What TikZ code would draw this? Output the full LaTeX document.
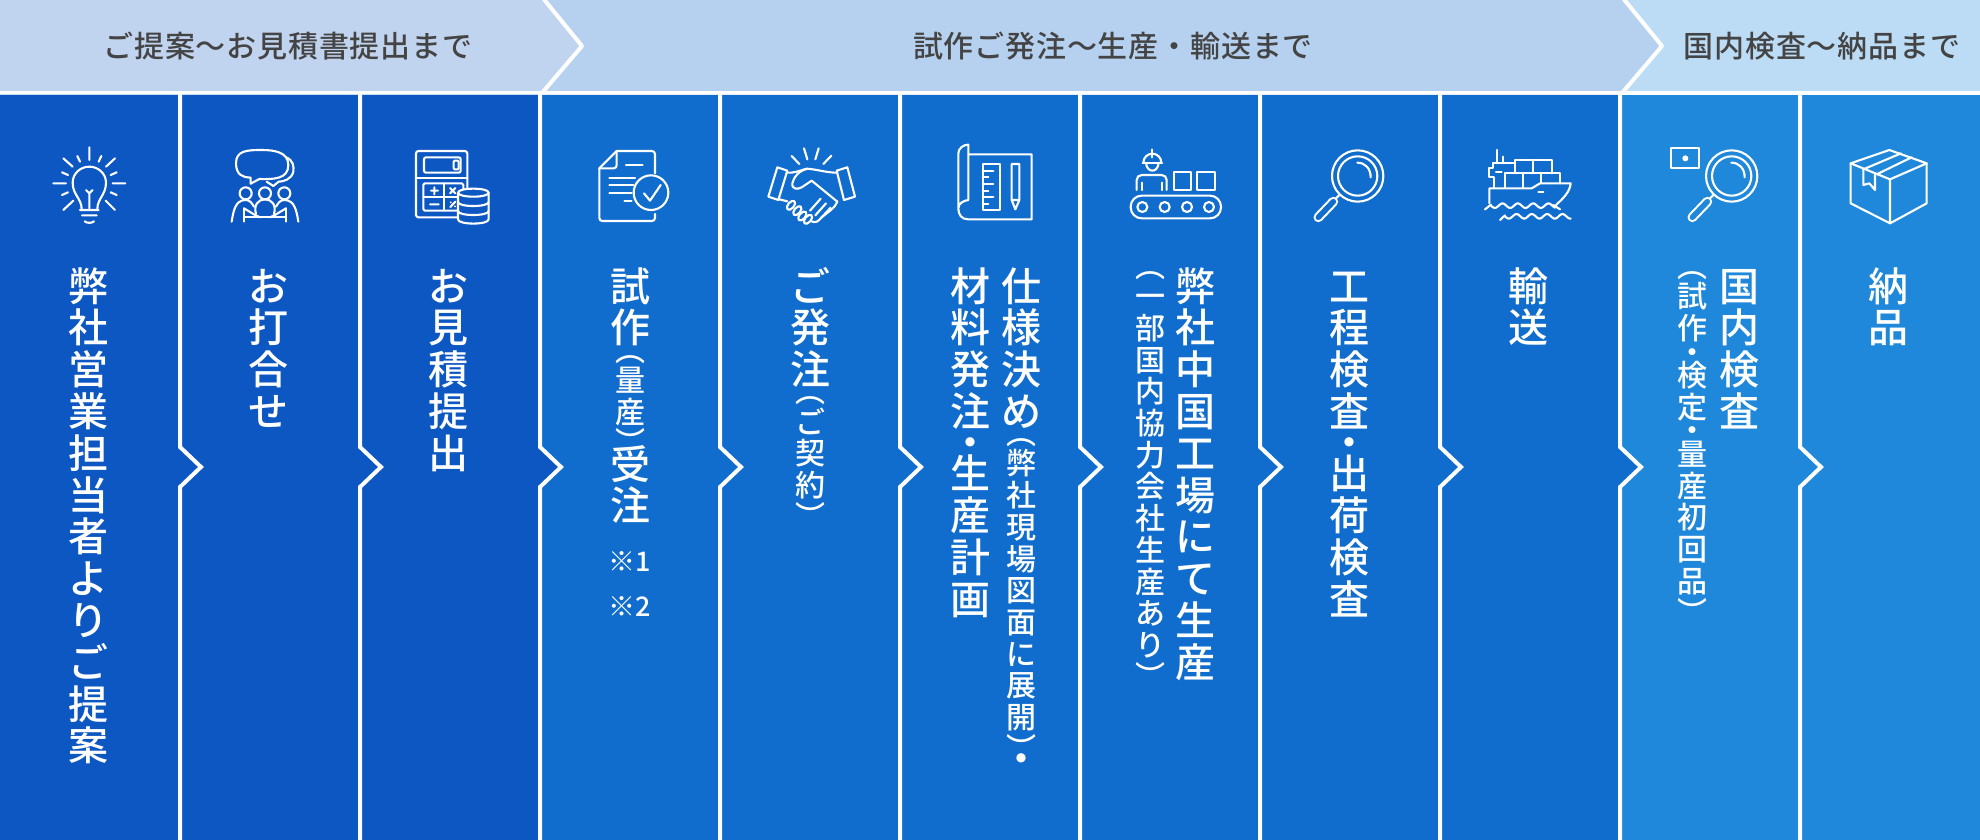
\documentclass[tikz,border=0pt]{standalone}
\usepackage{fontspec}
\newfontfamily\jp{Noto Sans CJK JP Medium}
\newfontfamily\jph[LetterSpace=2.7]{Noto Sans CJK JP Medium}
\newfontfamily\jpm{Noto Sans CJK JP Medium}
\definecolor{colA}{HTML}{0D57C3}
\definecolor{colB}{HTML}{106DCD}
\definecolor{colC}{HTML}{1F88DA}
\definecolor{hdA}{HTML}{C1D4EF}
\definecolor{hdB}{HTML}{B6D1EF}
\definecolor{hdC}{HTML}{BCDCF5}
\definecolor{hdtext}{HTML}{444444}
% one glyph in a vertical cell: size, pitch, char
\newcommand\VL[3]{\vbox to #2pt{\kern\dimexpr #2pt/2 + #1pt*38/100\relax
  \hbox to 80pt{\hss\smash{\fontsize{#1}{#1}\selectfont #3}\hss}\vss}}
\def\VB#1{\VBi#1\relax}
\def\VBi#1{\ifx#1\relax\else\VL{40}{41.8}{#1}\expandafter\VBi\fi}
\def\VS#1{\VSi#1\relax}
\def\VSi#1{\ifx#1\relax\else\VL{30}{31.7}{#1}\expandafter\VSi\fi}
\newcommand\VOP{\vbox to 15.5pt{\kern\dimexpr 15.5pt - 30pt*10/100\relax
  \hbox to 80pt{\hss\smash{\fontsize{30}{30}\selectfont ︵}\hss}\vss}}
\newcommand\VCL{\vbox to 15.5pt{\kern\dimexpr 30pt*88/100\relax
  \hbox to 80pt{\hss\smash{\fontsize{30}{30}\selectfont ︶}\hss}\vss}}
\newcommand\VDS{\VL{30}{15.5}{・}}
\newcommand\VDB{\VL{40}{20.5}{・}}
\newcommand\VT[1]{\vbox{\offinterlineskip\color{white}\jpm #1}}
\tikzset{
  coltext/.style={anchor=north,inner sep=0pt,outer sep=0pt},
  hdtxt/.style={inner sep=0pt,text=hdtext,font=\jph\fontsize{30}{30}\selectfont},
  sep/.style={white,line width=4pt,line join=miter},
  ic/.style={white,line width=2.1pt,line cap=round,line join=round},
  icarea/.style={shift={#1},x=.33333pt,y=-.33333pt},
}
\begin{document}
\begin{tikzpicture}[x=1pt,y=-1pt]
\useasboundingbox (0,0) rectangle (1980,840);
\fill[white] (0,0) rectangle (1980,840);
% header band
\fill[hdC] (0,0) rectangle (1980,91);
\fill[hdB] (0,0) -- (1622,0) -- (1661,46) -- (1622,91) -- (0,91) -- cycle;
\fill[hdA] (0,0) -- (542,0) -- (581,46) -- (542,91) -- (0,91) -- cycle;
\draw[sep,line join=round] (542,-3) -- (582,46) -- (542,93);
\draw[sep,line join=round] (1622,-3) -- (1662,46) -- (1622,93);
\node[hdtxt] (h1) at (288,46) {ご提案〜お見積書提出まで};
\node[hdtxt] (h2) at (1113,46) {試作ご発注〜生産・輸送まで};
\node[hdtxt] (h3) at (1822,46) {国内検査〜納品まで};
% columns
\fill[colC] (0,95) rectangle (1980,840);
\fill[colB] (0,95) -- (1440,95) -- (1620,95) -- (1620,447) -- (1641,467) -- (1620,487) -- (1620,840) -- (0,840) -- cycle;
\fill[colA] (0,95) -- (540,95) -- (540,447) -- (561,467) -- (540,487) -- (540,840) -- (0,840) -- cycle;
\foreach \sx in {180,360,...,1800}{
  \draw[sep] (\sx,93) -- (\sx,447) -- (\sx+21,467) -- (\sx,487) -- (\sx,842);
}
% column labels
\node[coltext] (t1) at (88,265) {\VT{\VB{弊社営業担当者よりご提案}}};
\node[coltext] (t2) at (268,265) {\VT{\VB{お打合せ}}};
\node[coltext] (t3) at (448,265) {\VT{\VB{お見積提出}}};
\node[coltext] (t4) at (630,265) {\VT{\VB{試作}\VOP\VS{量産}\VCL\VB{受注}}};
\node[inner sep=0pt,text=white,font=\jp\fontsize{27}{27}\selectfont] (n1) at (630,562) {※1};
\node[inner sep=0pt,text=white,font=\jp\fontsize{27}{27}\selectfont] (n2) at (630,607) {※2};
\node[coltext] (t5) at (810,265) {\VT{\VB{ご発注}\VOP\VS{ご契約}\VCL}};
\node[coltext] (t6a) at (1021,265) {\VT{\VB{仕様決め}\VOP\VS{弊社現場図面に展開}\VCL\VDB}};
\node[coltext] (t6b) at (970,265) {\VT{\VB{材料発注}\VDB\VB{生産計画}}};
\node[coltext] (t7a) at (1195,265) {\VT{\VB{弊社中国工場にて生産}}};
\node[coltext] (t7b) at (1150,265) {\VT{\VOP\VS{一部国内協力会社生産あり}\VCL}};
\node[coltext] (t8) at (1349,265) {\VT{\VB{工程検査}\VDB\VB{出荷検査}}};
\node[coltext] (t9) at (1528,265) {\VT{\VB{輸送}}};
\node[coltext] (t10a) at (1739,265) {\VT{\VB{国内検査}}};
\node[coltext] (t10b) at (1692,265) {\VT{\VOP\VS{試作}\VDS\VS{検定}\VDS\VS{量産初回品}\VCL}};
\node[coltext] (t11) at (1888,265) {\VT{\VB{納品}}};
% ---------- icons, crop 1
\begin{scope}[icarea={(40,140)},ic]
 % bulb
 \draw (125,208) .. controls (125,175) and (98,165) .. (98,128) .. controls (98,100) and (122,80) .. (148,80) .. controls (174,80) and (198,100) .. (198,128) .. controls (198,165) and (172,175) .. (172,208);
 \draw (120,210) -- (176,210) (126,226) -- (170,226) (134,244) .. controls (140,250) and (156,250) .. (162,244);
 \draw (148,205) -- (148,160) (138,150) -- (148,160) -- (158,150);
 \draw (148,22)--(148,60) (112,48)--(120,65) (184,48)--(176,65) (70,55)--(98,80) (225,55)--(198,80)
   (66,97)--(84,105) (230,97)--(212,105) (40,130)--(78,130) (218,130)--(256,130)
   (66,165)--(84,157) (230,165)--(212,157) (70,210)--(100,182) (225,210)--(197,182);
 % meeting
 \draw (658,117) .. controls (700,118) and (745,118) .. (745,75) .. controls (745,35) and (700,30) .. (665,30) .. controls (620,30) and (588,32) .. (588,70) .. controls (588,105) and (610,113) .. (632,113) -- (632,131) -- cycle;
 \draw (738,52) .. controls (760,60) and (762,80) .. (760,95) .. controls (755,118) and (730,125) .. (716,125) -- (700,138) -- (680,125);
 \draw (617,160) circle [radius=18] (675,160) circle [radius=18] (733,160) circle [radius=18];
 \draw (575,245) .. controls (580,215) and (585,180) .. (617,180) .. controls (630,180) and (636,190) .. (642,200);
 \draw (775,245) .. controls (770,215) and (765,180) .. (733,180) .. controls (720,180) and (714,190) .. (708,200);
 \draw (648,222) .. controls (640,195) and (655,178) .. (675,178) .. controls (695,178) and (710,195) .. (702,222);
 \draw (612,205) -- (612,245) (738,205) -- (738,245) (612,232) -- (738,232);
 \draw (612,205) -- (645,225) -- (660,232) (738,205) -- (705,225) -- (690,232);
 % calculator
 \draw[rounded corners=2.5pt] (1255,232) -- (1128,232) -- (1128,33) -- (1282,33) -- (1282,150);
 \draw[rounded corners=2pt] (1152,52) rectangle (1262,98);
 \draw (1128,114) -- (1282,114);
 \draw[rounded corners=1.5pt] (1255,212) -- (1150,212) -- (1150,130) -- (1270,130) -- (1270,150);
 \draw (1213,130) -- (1213,212) (1150,172) -- (1255,172);
 \draw[rounded corners=1pt] (1241,62) rectangle (1256,88);
 \draw (1173,152)--(1194,152) (1183,142)--(1183,163) (1230,144)--(1246,160) (1230,160)--(1246,144);
 \draw (1170,193)--(1196,193) (1231,201)--(1246,185);
 \fill[white] (1232,187) circle [radius=3] (1245,199) circle [radius=3];
 \filldraw[fill=colA] (1254,158) -- (1254,238) .. controls (1254,255) and (1346,255) .. (1346,238) -- (1346,158) .. controls (1346,142) and (1254,142) .. (1254,158) -- cycle;
 \draw (1254,158) .. controls (1254,174) and (1346,174) .. (1346,158);
 \draw (1254,186) .. controls (1254,202) and (1346,202) .. (1346,186);
 \draw (1254,213) .. controls (1254,229) and (1346,229) .. (1346,213);
\end{scope}
% ---------- icons, crop 2
\begin{scope}[icarea={(580,140)},ic]
 \draw[rounded corners=3pt] (225,100) -- (225,33) -- (110,33);
 \draw[rounded corners=3pt] (225,222) -- (225,243) -- (58,243) -- (58,85);
 \draw (58,85) -- (110,33);
 \draw[rounded corners=3pt] (58,85) -- (110,85) -- (110,33);
 \draw (138,76)--(188,76) (88,113)--(165,113) (88,135)--(160,135) (88,158)--(155,158) (133,183)--(155,183);
 \draw (213,158) circle [radius=52];
 \draw (192,160) -- (210,182) -- (242,135);
 % handshake
 \draw (592,82) -- (622,92) -- (595,180) -- (565,170) -- cycle;
 \draw (770,92) -- (802,82) -- (825,170) -- (792,180) -- cycle;
 \draw (635,48)--(658,72) (672,25)--(682,58) (716,25)--(706,58) (754,47)--(730,72);
 \draw (620,98) .. controls (640,100) and (660,92) .. (680,86) .. controls (710,88) and (740,98) .. (770,98);
 \draw (680,87) .. controls (655,92) and (640,115) .. (637,130) .. controls (635,150) and (655,148) .. (665,142) -- (695,122) -- (772,185);
 \draw (772,185) .. controls (765,205) and (745,215) .. (725,232) .. controls (715,245) and (705,250) .. (695,244);
 \draw (598,178) -- (622,184);
 \draw (722,176)--(690,212) (738,190)--(706,226) (752,203)--(722,235);
 \foreach \cx/\cy in {633/196,652/212,667/228,684/238}{
   \draw[rotate around={50:(\cx,\cy)}] (\cx,\cy) ellipse [x radius=16,y radius=9];
 }
 % blueprint
 \draw (1165,43) -- (1355,43) -- (1355,238) -- (1165,238) .. controls (1145,238) and (1135,225) .. (1135,205) -- (1135,40) .. controls (1135,25) and (1150,14) .. (1165,14) -- (1165,180) .. controls (1150,182) and (1135,190) .. (1135,205);
 \draw (1208,72) rectangle (1260,210);
 \draw (1208,92)--(1240,92) (1208,112)--(1225,112) (1208,132)--(1240,132) (1208,152)--(1225,152) (1208,172)--(1240,172) (1208,192)--(1225,192);
 \draw (1295,72) -- (1318,72) -- (1318,180) -- (1306,208) -- (1295,180) -- cycle (1295,180) -- (1318,180);
\end{scope}
% ---------- icons, crop 3
\begin{scope}[icarea={(1120,140)},ic]
 % worker
 \draw (70,68) arc [start angle=180,end angle=360,radius=27];
 \draw (68,68) -- (126,68) (97,28) -- (97,52);
 \draw (78,68) .. controls (80,100) and (114,100) .. (116,68);
 \draw[rounded corners=5pt] (50,150) -- (50,105) -- (140,105) -- (140,150);
 \draw (65,128)--(65,150) (125,128)--(125,150);
 \draw (162,97) rectangle (214,150) (232,97) rectangle (286,150);
 \draw[rounded corners=11pt] (32,167) rectangle (303,235);
 \draw (67,201) circle [radius=15] (134,201) circle [radius=15] (201,201) circle [radius=15] (267,201) circle [radius=15];
 % magnifier
 \draw (713,108) circle [radius=77] (713,108) circle [radius=59];
 \draw (712,68) .. controls (735,68) and (752,85) .. (752,112);
 \draw (658,165) -- (645,178);
 \draw[double=colB,double distance=5.5pt] (640,185) -- (595,232);
 % ship
 \draw (1130,30)--(1130,70) (1150,50)--(1150,70);
 \draw (1185,70) -- (1120,70) -- (1120,85) -- (1108,85) -- (1108,110) -- (1122,110) -- (1122,142);
 \draw (1185,100) -- (1185,60) -- (1295,60) -- (1295,100) (1240,60) -- (1240,100);
 \draw (1155,142) -- (1155,100) -- (1320,100) -- (1320,130) (1210,100) -- (1210,142) (1262,100) -- (1262,130);
 \draw (1108,145) -- (1235,145) -- (1260,130) -- (1352,130) .. controls (1350,155) and (1330,175) .. (1308,195) (1108,145) -- (1108,190);
 \draw (1128,97)--(1145,97) (1255,155)--(1270,155);
 \draw (1095,208) -- (1113,194) (1300,195)--(1320,208);
 \draw plot[smooth,domain=1113:1305,samples=40] (\x,{197+7*sin((\x-1113)/46*360)});
 \draw (1140,240) -- (1155,226);
 \draw plot[smooth,domain=1155:1352,samples=40] (\x,{229+7*sin((\x-1155)/46*360)});
\end{scope}
% ---------- icons, crop 4
\begin{scope}[icarea={(1480,140)},ic]
 \draw (573,25) rectangle (658,85);
 \fill[white] (616,55) circle [radius=9];
 \draw (755,108) circle [radius=77] (755,108) circle [radius=59];
 \draw (754,68) .. controls (777,68) and (794,85) .. (794,112);
 \draw (700,165) -- (687,178);
 \draw[double=colC,double distance=5.5pt] (682,185) -- (637,232);
 % parcel
 \draw (1112,70) -- (1228,30) -- (1340,70) -- (1230,118) -- cycle;
 \draw (1112,70) -- (1112,190) -- (1230,250) -- (1340,190) -- (1340,70) (1230,118) -- (1230,250);
 \draw (1150,88) -- (1263,40) (1190,103) -- (1295,52);
 \draw (1150,88) -- (1150,135) -- (1168,130) -- (1185,150) -- (1185,103);
\end{scope}
\end{tikzpicture}
\end{document}
